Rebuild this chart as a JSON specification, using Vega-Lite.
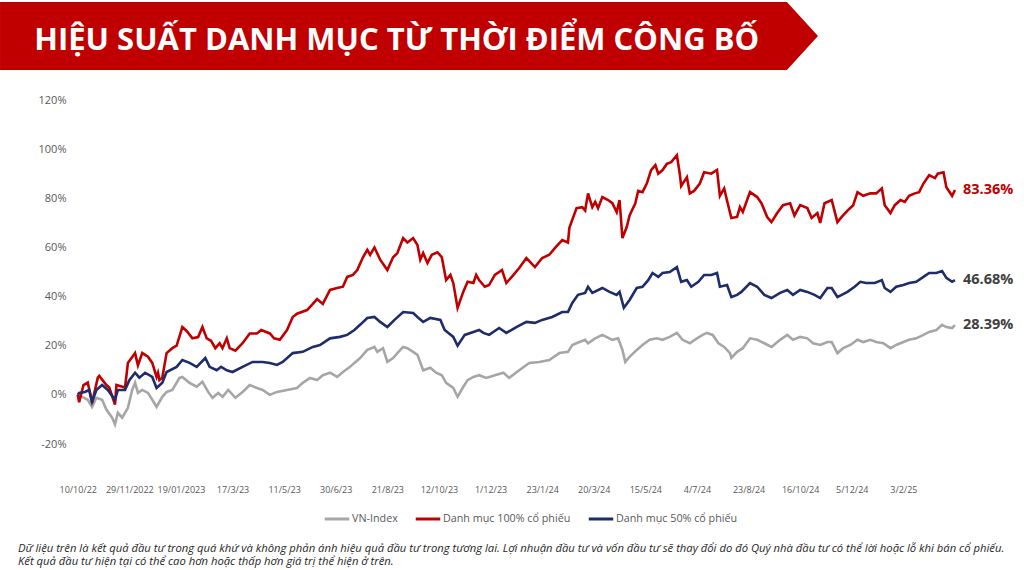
{
  "$schema": "https://vega.github.io/schema/vega-lite/v6.json",
  "background": "white",
  "padding": {"left": 0, "top": 2, "right": 0, "bottom": 0},
  "config": {
    "view": {"stroke": null},
    "font": "Open Sans"
  },
  "datasets": {
    "banner": [
      {"bx": 0, "top": 0, "bot": 1},
      {"bx": 0.962, "top": 0, "bot": 1},
      {"bx": 1, "top": 0.5, "bot": 0.5}
    ],
    "ends": [
      {"series": "Danh mục 100% cổ phiếu", "day": 612, "ret": 83.36, "label": "83.36%"},
      {"series": "Danh mục 50% cổ phiếu", "day": 612, "ret": 46.68, "label": "46.68%"},
      {"series": "VN-Index", "day": 612, "ret": 28.39, "label": "28.39%"}
    ],
    "perf": [
      {"series": "VN-Index", "day": 0, "ret": 0},
      {"series": "VN-Index", "day": 3, "ret": -0.8},
      {"series": "VN-Index", "day": 7, "ret": -2},
      {"series": "VN-Index", "day": 10, "ret": -4.9},
      {"series": "VN-Index", "day": 13, "ret": -1.2},
      {"series": "VN-Index", "day": 17, "ret": -2},
      {"series": "VN-Index", "day": 20, "ret": -6},
      {"series": "VN-Index", "day": 24, "ret": -9.3},
      {"series": "VN-Index", "day": 26, "ret": -12},
      {"series": "VN-Index", "day": 28, "ret": -7.3},
      {"series": "VN-Index", "day": 31, "ret": -9.3},
      {"series": "VN-Index", "day": 35, "ret": -5.3},
      {"series": "VN-Index", "day": 38, "ret": 2},
      {"series": "VN-Index", "day": 40, "ret": 4.9},
      {"series": "VN-Index", "day": 42, "ret": 0.8},
      {"series": "VN-Index", "day": 45, "ret": 2},
      {"series": "VN-Index", "day": 49, "ret": 0.8},
      {"series": "VN-Index", "day": 52, "ret": -2},
      {"series": "VN-Index", "day": 55, "ret": -4.9},
      {"series": "VN-Index", "day": 59, "ret": -0.8},
      {"series": "VN-Index", "day": 62, "ret": 1.2},
      {"series": "VN-Index", "day": 66, "ret": 2},
      {"series": "VN-Index", "day": 71, "ret": 6.9},
      {"series": "VN-Index", "day": 73, "ret": 7.3},
      {"series": "VN-Index", "day": 78, "ret": 4.9},
      {"series": "VN-Index", "day": 83, "ret": 3.3},
      {"series": "VN-Index", "day": 87, "ret": 5.3},
      {"series": "VN-Index", "day": 91, "ret": 1.2},
      {"series": "VN-Index", "day": 94, "ret": -1.2},
      {"series": "VN-Index", "day": 98, "ret": 0.8},
      {"series": "VN-Index", "day": 101, "ret": -0.8},
      {"series": "VN-Index", "day": 105, "ret": 2},
      {"series": "VN-Index", "day": 110, "ret": -1.2},
      {"series": "VN-Index", "day": 115, "ret": 1.2},
      {"series": "VN-Index", "day": 120, "ret": 4},
      {"series": "VN-Index", "day": 125, "ret": 2.8},
      {"series": "VN-Index", "day": 129, "ret": 2},
      {"series": "VN-Index", "day": 134, "ret": 0},
      {"series": "VN-Index", "day": 139, "ret": 1.2},
      {"series": "VN-Index", "day": 146, "ret": 2},
      {"series": "VN-Index", "day": 153, "ret": 2.8},
      {"series": "VN-Index", "day": 157, "ret": 4.9},
      {"series": "VN-Index", "day": 162, "ret": 6.9},
      {"series": "VN-Index", "day": 167, "ret": 6},
      {"series": "VN-Index", "day": 171, "ret": 8},
      {"series": "VN-Index", "day": 176, "ret": 9},
      {"series": "VN-Index", "day": 181, "ret": 7.3},
      {"series": "VN-Index", "day": 185, "ret": 9.3},
      {"series": "VN-Index", "day": 190, "ret": 11.4},
      {"series": "VN-Index", "day": 193, "ret": 13},
      {"series": "VN-Index", "day": 197, "ret": 15},
      {"series": "VN-Index", "day": 202, "ret": 18.3},
      {"series": "VN-Index", "day": 207, "ret": 19.5},
      {"series": "VN-Index", "day": 209, "ret": 17.5},
      {"series": "VN-Index", "day": 213, "ret": 19},
      {"series": "VN-Index", "day": 216, "ret": 13.4},
      {"series": "VN-Index", "day": 220, "ret": 15},
      {"series": "VN-Index", "day": 223, "ret": 17},
      {"series": "VN-Index", "day": 227, "ret": 19.5},
      {"series": "VN-Index", "day": 230, "ret": 19},
      {"series": "VN-Index", "day": 234, "ret": 17.5},
      {"series": "VN-Index", "day": 237, "ret": 16.3},
      {"series": "VN-Index", "day": 241, "ret": 10},
      {"series": "VN-Index", "day": 246, "ret": 11},
      {"series": "VN-Index", "day": 250, "ret": 9},
      {"series": "VN-Index", "day": 254, "ret": 8},
      {"series": "VN-Index", "day": 257, "ret": 4.9},
      {"series": "VN-Index", "day": 262, "ret": 2.8},
      {"series": "VN-Index", "day": 265, "ret": -0.8},
      {"series": "VN-Index", "day": 269, "ret": 3.3},
      {"series": "VN-Index", "day": 272, "ret": 6},
      {"series": "VN-Index", "day": 276, "ret": 7.3},
      {"series": "VN-Index", "day": 280, "ret": 8},
      {"series": "VN-Index", "day": 285, "ret": 6.9},
      {"series": "VN-Index", "day": 291, "ret": 8},
      {"series": "VN-Index", "day": 297, "ret": 9},
      {"series": "VN-Index", "day": 301, "ret": 6.9},
      {"series": "VN-Index", "day": 308, "ret": 10},
      {"series": "VN-Index", "day": 315, "ret": 13},
      {"series": "VN-Index", "day": 322, "ret": 13.4},
      {"series": "VN-Index", "day": 329, "ret": 14.2},
      {"series": "VN-Index", "day": 336, "ret": 17},
      {"series": "VN-Index", "day": 342, "ret": 17.5},
      {"series": "VN-Index", "day": 345, "ret": 20.3},
      {"series": "VN-Index", "day": 350, "ret": 21.5},
      {"series": "VN-Index", "day": 354, "ret": 22.4},
      {"series": "VN-Index", "day": 356, "ret": 21},
      {"series": "VN-Index", "day": 361, "ret": 23},
      {"series": "VN-Index", "day": 366, "ret": 24.4},
      {"series": "VN-Index", "day": 373, "ret": 22.4},
      {"series": "VN-Index", "day": 377, "ret": 23},
      {"series": "VN-Index", "day": 380, "ret": 18.3},
      {"series": "VN-Index", "day": 382, "ret": 13.4},
      {"series": "VN-Index", "day": 385, "ret": 15.5},
      {"series": "VN-Index", "day": 390, "ret": 18.3},
      {"series": "VN-Index", "day": 394, "ret": 20.3},
      {"series": "VN-Index", "day": 399, "ret": 22.4},
      {"series": "VN-Index", "day": 404, "ret": 23},
      {"series": "VN-Index", "day": 408, "ret": 22.4},
      {"series": "VN-Index", "day": 413, "ret": 23.6},
      {"series": "VN-Index", "day": 418, "ret": 25.2},
      {"series": "VN-Index", "day": 422, "ret": 22.4},
      {"series": "VN-Index", "day": 427, "ret": 21},
      {"series": "VN-Index", "day": 432, "ret": 23},
      {"series": "VN-Index", "day": 436, "ret": 24.4},
      {"series": "VN-Index", "day": 439, "ret": 25.2},
      {"series": "VN-Index", "day": 443, "ret": 24.4},
      {"series": "VN-Index", "day": 447, "ret": 21},
      {"series": "VN-Index", "day": 451, "ret": 19.5},
      {"series": "VN-Index", "day": 455, "ret": 17},
      {"series": "VN-Index", "day": 456, "ret": 15},
      {"series": "VN-Index", "day": 460, "ret": 17.5},
      {"series": "VN-Index", "day": 464, "ret": 19},
      {"series": "VN-Index", "day": 469, "ret": 23},
      {"series": "VN-Index", "day": 474, "ret": 22.4},
      {"series": "VN-Index", "day": 479, "ret": 21},
      {"series": "VN-Index", "day": 484, "ret": 19.5},
      {"series": "VN-Index", "day": 490, "ret": 22.4},
      {"series": "VN-Index", "day": 495, "ret": 24.4},
      {"series": "VN-Index", "day": 499, "ret": 22.4},
      {"series": "VN-Index", "day": 504, "ret": 23.6},
      {"series": "VN-Index", "day": 509, "ret": 23},
      {"series": "VN-Index", "day": 513, "ret": 21},
      {"series": "VN-Index", "day": 518, "ret": 20.3},
      {"series": "VN-Index", "day": 523, "ret": 21.5},
      {"series": "VN-Index", "day": 526, "ret": 21.5},
      {"series": "VN-Index", "day": 530, "ret": 17},
      {"series": "VN-Index", "day": 534, "ret": 19},
      {"series": "VN-Index", "day": 539, "ret": 20.3},
      {"series": "VN-Index", "day": 544, "ret": 22.4},
      {"series": "VN-Index", "day": 548, "ret": 21.5},
      {"series": "VN-Index", "day": 553, "ret": 22.4},
      {"series": "VN-Index", "day": 557, "ret": 21.5},
      {"series": "VN-Index", "day": 562, "ret": 21},
      {"series": "VN-Index", "day": 567, "ret": 19},
      {"series": "VN-Index", "day": 571, "ret": 20.3},
      {"series": "VN-Index", "day": 576, "ret": 21.5},
      {"series": "VN-Index", "day": 580, "ret": 22.4},
      {"series": "VN-Index", "day": 585, "ret": 23},
      {"series": "VN-Index", "day": 590, "ret": 24.4},
      {"series": "VN-Index", "day": 594, "ret": 25.6},
      {"series": "VN-Index", "day": 599, "ret": 26.4},
      {"series": "VN-Index", "day": 603, "ret": 28.5},
      {"series": "VN-Index", "day": 606, "ret": 27.6},
      {"series": "VN-Index", "day": 610, "ret": 27.2},
      {"series": "VN-Index", "day": 612, "ret": 28.39},

      {"series": "Danh mục 100% cổ phiếu", "day": 0, "ret": 0},
      {"series": "Danh mục 100% cổ phiếu", "day": 1, "ret": -3},
      {"series": "Danh mục 100% cổ phiếu", "day": 4, "ret": 4},
      {"series": "Danh mục 100% cổ phiếu", "day": 7, "ret": 5},
      {"series": "Danh mục 100% cổ phiếu", "day": 10, "ret": -3.3},
      {"series": "Danh mục 100% cổ phiếu", "day": 14, "ret": 7},
      {"series": "Danh mục 100% cổ phiếu", "day": 15, "ret": 7.7},
      {"series": "Danh mục 100% cổ phiếu", "day": 20, "ret": 4},
      {"series": "Danh mục 100% cổ phiếu", "day": 22, "ret": 3},
      {"series": "Danh mục 100% cổ phiếu", "day": 26, "ret": -4},
      {"series": "Danh mục 100% cổ phiếu", "day": 27, "ret": 4},
      {"series": "Danh mục 100% cổ phiếu", "day": 33, "ret": 3},
      {"series": "Danh mục 100% cổ phiếu", "day": 35, "ret": 13},
      {"series": "Danh mục 100% cổ phiếu", "day": 40, "ret": 17},
      {"series": "Danh mục 100% cổ phiếu", "day": 42, "ret": 12},
      {"series": "Danh mục 100% cổ phiếu", "day": 45, "ret": 17},
      {"series": "Danh mục 100% cổ phiếu", "day": 49, "ret": 15.5},
      {"series": "Danh mục 100% cổ phiếu", "day": 52, "ret": 13},
      {"series": "Danh mục 100% cổ phiếu", "day": 55, "ret": 7.3},
      {"series": "Danh mục 100% cổ phiếu", "day": 56, "ret": 9},
      {"series": "Danh mục 100% cổ phiếu", "day": 57, "ret": 6},
      {"series": "Danh mục 100% cổ phiếu", "day": 59, "ret": 7},
      {"series": "Danh mục 100% cổ phiếu", "day": 62, "ret": 17},
      {"series": "Danh mục 100% cổ phiếu", "day": 66, "ret": 19},
      {"series": "Danh mục 100% cổ phiếu", "day": 69, "ret": 20},
      {"series": "Danh mục 100% cổ phiếu", "day": 73, "ret": 27.6},
      {"series": "Danh mục 100% cổ phiếu", "day": 76, "ret": 26},
      {"series": "Danh mục 100% cổ phiếu", "day": 80, "ret": 23},
      {"series": "Danh mục 100% cổ phiếu", "day": 84, "ret": 23.5},
      {"series": "Danh mục 100% cổ phiếu", "day": 87, "ret": 27.6},
      {"series": "Danh mục 100% cổ phiếu", "day": 90, "ret": 23},
      {"series": "Danh mục 100% cổ phiếu", "day": 93, "ret": 22},
      {"series": "Danh mục 100% cổ phiếu", "day": 96, "ret": 19},
      {"series": "Danh mục 100% cổ phiếu", "day": 99, "ret": 21},
      {"series": "Danh mục 100% cổ phiếu", "day": 101, "ret": 19},
      {"series": "Danh mục 100% cổ phiếu", "day": 104, "ret": 23},
      {"series": "Danh mục 100% cổ phiếu", "day": 106, "ret": 19},
      {"series": "Danh mục 100% cổ phiếu", "day": 110, "ret": 18},
      {"series": "Danh mục 100% cổ phiếu", "day": 115, "ret": 21},
      {"series": "Danh mục 100% cổ phiếu", "day": 120, "ret": 25},
      {"series": "Danh mục 100% cổ phiếu", "day": 125, "ret": 25},
      {"series": "Danh mục 100% cổ phiếu", "day": 128, "ret": 26.4},
      {"series": "Danh mục 100% cổ phiếu", "day": 134, "ret": 25},
      {"series": "Danh mục 100% cổ phiếu", "day": 137, "ret": 23},
      {"series": "Danh mục 100% cổ phiếu", "day": 141, "ret": 22.4},
      {"series": "Danh mục 100% cổ phiếu", "day": 146, "ret": 26.4},
      {"series": "Danh mục 100% cổ phiếu", "day": 150, "ret": 31.7},
      {"series": "Danh mục 100% cổ phiếu", "day": 153, "ret": 33},
      {"series": "Danh mục 100% cổ phiếu", "day": 160, "ret": 34.5},
      {"series": "Danh mục 100% cổ phiếu", "day": 164, "ret": 37},
      {"series": "Danh mục 100% cổ phiếu", "day": 167, "ret": 39},
      {"series": "Danh mục 100% cổ phiếu", "day": 171, "ret": 37},
      {"series": "Danh mục 100% cổ phiếu", "day": 176, "ret": 42.7},
      {"series": "Danh mục 100% cổ phiếu", "day": 181, "ret": 43.5},
      {"series": "Danh mục 100% cổ phiếu", "day": 185, "ret": 44},
      {"series": "Danh mục 100% cổ phiếu", "day": 188, "ret": 48},
      {"series": "Danh mục 100% cổ phiếu", "day": 192, "ret": 48.8},
      {"series": "Danh mục 100% cổ phiếu", "day": 195, "ret": 50.8},
      {"series": "Danh mục 100% cổ phiếu", "day": 199, "ret": 56},
      {"series": "Danh mục 100% cổ phiếu", "day": 202, "ret": 59},
      {"series": "Danh mục 100% cổ phiếu", "day": 204, "ret": 57},
      {"series": "Danh mục 100% cổ phiếu", "day": 207, "ret": 60},
      {"series": "Danh mục 100% cổ phiếu", "day": 211, "ret": 55},
      {"series": "Danh mục 100% cổ phiếu", "day": 216, "ret": 50.8},
      {"series": "Danh mục 100% cổ phiếu", "day": 220, "ret": 56},
      {"series": "Danh mục 100% cổ phiếu", "day": 223, "ret": 57.7},
      {"series": "Danh mục 100% cổ phiếu", "day": 227, "ret": 63.8},
      {"series": "Danh mục 100% cổ phiếu", "day": 230, "ret": 62},
      {"series": "Danh mục 100% cổ phiếu", "day": 234, "ret": 63.8},
      {"series": "Danh mục 100% cổ phiếu", "day": 237, "ret": 61},
      {"series": "Danh mục 100% cổ phiếu", "day": 239, "ret": 55},
      {"series": "Danh mục 100% cổ phiếu", "day": 241, "ret": 57.7},
      {"series": "Danh mục 100% cổ phiếu", "day": 244, "ret": 53.7},
      {"series": "Danh mục 100% cổ phiếu", "day": 247, "ret": 57},
      {"series": "Danh mục 100% cổ phiếu", "day": 251, "ret": 58},
      {"series": "Danh mục 100% cổ phiếu", "day": 254, "ret": 56},
      {"series": "Danh mục 100% cổ phiếu", "day": 257, "ret": 46.7},
      {"series": "Danh mục 100% cổ phiếu", "day": 260, "ret": 48.8},
      {"series": "Danh mục 100% cổ phiếu", "day": 262, "ret": 45.5},
      {"series": "Danh mục 100% cổ phiếu", "day": 265, "ret": 35.4},
      {"series": "Danh mục 100% cổ phiếu", "day": 269, "ret": 42},
      {"series": "Danh mục 100% cổ phiếu", "day": 272, "ret": 46},
      {"series": "Danh mục 100% cổ phiếu", "day": 276, "ret": 45.5},
      {"series": "Danh mục 100% cổ phiếu", "day": 278, "ret": 48.8},
      {"series": "Danh mục 100% cổ phiếu", "day": 280, "ret": 46.7},
      {"series": "Danh mục 100% cổ phiếu", "day": 284, "ret": 44},
      {"series": "Danh mục 100% cổ phiếu", "day": 287, "ret": 44.7},
      {"series": "Danh mục 100% cổ phiếu", "day": 291, "ret": 48.8},
      {"series": "Danh mục 100% cổ phiếu", "day": 296, "ret": 50.8},
      {"series": "Danh mục 100% cổ phiếu", "day": 299, "ret": 45.5},
      {"series": "Danh mục 100% cổ phiếu", "day": 304, "ret": 48.8},
      {"series": "Danh mục 100% cổ phiếu", "day": 308, "ret": 51.6},
      {"series": "Danh mục 100% cổ phiếu", "day": 313, "ret": 55.7},
      {"series": "Danh mục 100% cổ phiếu", "day": 319, "ret": 52},
      {"series": "Danh mục 100% cổ phiếu", "day": 324, "ret": 55.7},
      {"series": "Danh mục 100% cổ phiếu", "day": 329, "ret": 57},
      {"series": "Danh mục 100% cổ phiếu", "day": 333, "ret": 59.8},
      {"series": "Danh mục 100% cổ phiếu", "day": 338, "ret": 63},
      {"series": "Danh mục 100% cổ phiếu", "day": 342, "ret": 62},
      {"series": "Danh mục 100% cổ phiếu", "day": 343, "ret": 68},
      {"series": "Danh mục 100% cổ phiếu", "day": 348, "ret": 76},
      {"series": "Danh mục 100% cổ phiếu", "day": 352, "ret": 76.4},
      {"series": "Danh mục 100% cổ phiếu", "day": 354, "ret": 75},
      {"series": "Danh mục 100% cổ phiếu", "day": 356, "ret": 82},
      {"series": "Danh mục 100% cổ phiếu", "day": 359, "ret": 76.4},
      {"series": "Danh mục 100% cổ phiếu", "day": 361, "ret": 78.5},
      {"series": "Danh mục 100% cổ phiếu", "day": 363, "ret": 76},
      {"series": "Danh mục 100% cổ phiếu", "day": 366, "ret": 80.5},
      {"series": "Danh mục 100% cổ phiếu", "day": 370, "ret": 79.3},
      {"series": "Danh mục 100% cổ phiếu", "day": 373, "ret": 78},
      {"series": "Danh mục 100% cổ phiếu", "day": 376, "ret": 74.4},
      {"series": "Danh mục 100% cổ phiếu", "day": 378, "ret": 79.3},
      {"series": "Danh mục 100% cổ phiếu", "day": 380, "ret": 63.8},
      {"series": "Danh mục 100% cổ phiếu", "day": 383, "ret": 68.3},
      {"series": "Danh mục 100% cổ phiếu", "day": 385, "ret": 73},
      {"series": "Danh mục 100% cổ phiếu", "day": 389, "ret": 78},
      {"series": "Danh mục 100% cổ phiếu", "day": 391, "ret": 83},
      {"series": "Danh mục 100% cổ phiếu", "day": 394, "ret": 82.5},
      {"series": "Danh mục 100% cổ phiếu", "day": 397, "ret": 86},
      {"series": "Danh mục 100% cổ phiếu", "day": 400, "ret": 91.5},
      {"series": "Danh mục 100% cổ phiếu", "day": 403, "ret": 93.5},
      {"series": "Danh mục 100% cổ phiếu", "day": 405, "ret": 90},
      {"series": "Danh mục 100% cổ phiếu", "day": 408, "ret": 91.5},
      {"series": "Danh mục 100% cổ phiếu", "day": 411, "ret": 94},
      {"series": "Danh mục 100% cổ phiếu", "day": 414, "ret": 94.7},
      {"series": "Danh mục 100% cổ phiếu", "day": 418, "ret": 97.5},
      {"series": "Danh mục 100% cổ phiếu", "day": 420, "ret": 90},
      {"series": "Danh mục 100% cổ phiếu", "day": 421, "ret": 85},
      {"series": "Danh mục 100% cổ phiếu", "day": 425, "ret": 88.6},
      {"series": "Danh mục 100% cổ phiếu", "day": 427, "ret": 82},
      {"series": "Danh mục 100% cổ phiếu", "day": 430, "ret": 83},
      {"series": "Danh mục 100% cổ phiếu", "day": 434, "ret": 86},
      {"series": "Danh mục 100% cổ phiếu", "day": 437, "ret": 90.6},
      {"series": "Danh mục 100% cổ phiếu", "day": 442, "ret": 90},
      {"series": "Danh mục 100% cổ phiếu", "day": 446, "ret": 91.5},
      {"series": "Danh mục 100% cổ phiếu", "day": 448, "ret": 81},
      {"series": "Danh mục 100% cổ phiếu", "day": 451, "ret": 84},
      {"series": "Danh mục 100% cổ phiếu", "day": 453, "ret": 79},
      {"series": "Danh mục 100% cổ phiếu", "day": 456, "ret": 72},
      {"series": "Danh mục 100% cổ phiếu", "day": 460, "ret": 72.4},
      {"series": "Danh mục 100% cổ phiếu", "day": 462, "ret": 76.4},
      {"series": "Danh mục 100% cổ phiếu", "day": 464, "ret": 74.4},
      {"series": "Danh mục 100% cổ phiếu", "day": 469, "ret": 82.5},
      {"series": "Danh mục 100% cổ phiếu", "day": 474, "ret": 80.5},
      {"series": "Danh mục 100% cổ phiếu", "day": 477, "ret": 78},
      {"series": "Danh mục 100% cổ phiếu", "day": 481, "ret": 72.4},
      {"series": "Danh mục 100% cổ phiếu", "day": 484, "ret": 70.3},
      {"series": "Danh mục 100% cổ phiếu", "day": 488, "ret": 74},
      {"series": "Danh mục 100% cổ phiếu", "day": 492, "ret": 77.2},
      {"series": "Danh mục 100% cổ phiếu", "day": 497, "ret": 78},
      {"series": "Danh mục 100% cổ phiếu", "day": 500, "ret": 73},
      {"series": "Danh mục 100% cổ phiếu", "day": 504, "ret": 77.2},
      {"series": "Danh mục 100% cổ phiếu", "day": 509, "ret": 76},
      {"series": "Danh mục 100% cổ phiếu", "day": 512, "ret": 72},
      {"series": "Danh mục 100% cổ phiếu", "day": 516, "ret": 74},
      {"series": "Danh mục 100% cổ phiếu", "day": 518, "ret": 70},
      {"series": "Danh mục 100% cổ phiếu", "day": 521, "ret": 78},
      {"series": "Danh mục 100% cổ phiếu", "day": 526, "ret": 79.3},
      {"series": "Danh mục 100% cổ phiếu", "day": 530, "ret": 70.3},
      {"series": "Danh mục 100% cổ phiếu", "day": 533, "ret": 72.4},
      {"series": "Danh mục 100% cổ phiếu", "day": 537, "ret": 75},
      {"series": "Danh mục 100% cổ phiếu", "day": 541, "ret": 77.2},
      {"series": "Danh mục 100% cổ phiếu", "day": 544, "ret": 82.5},
      {"series": "Danh mục 100% cổ phiếu", "day": 548, "ret": 81},
      {"series": "Danh mục 100% cổ phiếu", "day": 553, "ret": 82},
      {"series": "Danh mục 100% cổ phiếu", "day": 557, "ret": 82},
      {"series": "Danh mục 100% cổ phiếu", "day": 561, "ret": 84},
      {"series": "Danh mục 100% cổ phiếu", "day": 563, "ret": 77.2},
      {"series": "Danh mục 100% cổ phiếu", "day": 567, "ret": 74},
      {"series": "Danh mục 100% cổ phiếu", "day": 570, "ret": 77.2},
      {"series": "Danh mục 100% cổ phiếu", "day": 574, "ret": 79.3},
      {"series": "Danh mục 100% cổ phiếu", "day": 577, "ret": 78.5},
      {"series": "Danh mục 100% cổ phiếu", "day": 580, "ret": 81},
      {"series": "Danh mục 100% cổ phiếu", "day": 584, "ret": 82},
      {"series": "Danh mục 100% cổ phiếu", "day": 587, "ret": 82.5},
      {"series": "Danh mục 100% cổ phiếu", "day": 590, "ret": 86},
      {"series": "Danh mục 100% cổ phiếu", "day": 594, "ret": 89.4},
      {"series": "Danh mục 100% cổ phiếu", "day": 598, "ret": 88.2},
      {"series": "Danh mục 100% cổ phiếu", "day": 600, "ret": 90},
      {"series": "Danh mục 100% cổ phiếu", "day": 604, "ret": 90.6},
      {"series": "Danh mục 100% cổ phiếu", "day": 606, "ret": 84.5},
      {"series": "Danh mục 100% cổ phiếu", "day": 610, "ret": 81},
      {"series": "Danh mục 100% cổ phiếu", "day": 612, "ret": 83.36},

      {"series": "Danh mục 50% cổ phiếu", "day": 0, "ret": 0},
      {"series": "Danh mục 50% cổ phiếu", "day": 1, "ret": 0.8},
      {"series": "Danh mục 50% cổ phiếu", "day": 5, "ret": 1.2},
      {"series": "Danh mục 50% cổ phiếu", "day": 8, "ret": 2},
      {"series": "Danh mục 50% cổ phiếu", "day": 10, "ret": -2.8},
      {"series": "Danh mục 50% cổ phiếu", "day": 13, "ret": 2},
      {"series": "Danh mục 50% cổ phiếu", "day": 17, "ret": 4},
      {"series": "Danh mục 50% cổ phiếu", "day": 21, "ret": 2},
      {"series": "Danh mục 50% cổ phiếu", "day": 26, "ret": -2},
      {"series": "Danh mục 50% cổ phiếu", "day": 28, "ret": 2},
      {"series": "Danh mục 50% cổ phiếu", "day": 33, "ret": 2},
      {"series": "Danh mục 50% cổ phiếu", "day": 36, "ret": 6},
      {"series": "Danh mục 50% cổ phiếu", "day": 40, "ret": 9},
      {"series": "Danh mục 50% cổ phiếu", "day": 43, "ret": 7},
      {"series": "Danh mục 50% cổ phiếu", "day": 47, "ret": 9},
      {"series": "Danh mục 50% cổ phiếu", "day": 52, "ret": 7.3},
      {"series": "Danh mục 50% cổ phiếu", "day": 55, "ret": 2.8},
      {"series": "Danh mục 50% cổ phiếu", "day": 59, "ret": 4.9},
      {"series": "Danh mục 50% cổ phiếu", "day": 62, "ret": 9.3},
      {"series": "Danh mục 50% cổ phiếu", "day": 69, "ret": 11.4},
      {"series": "Danh mục 50% cổ phiếu", "day": 73, "ret": 14.2},
      {"series": "Danh mục 50% cổ phiếu", "day": 78, "ret": 13},
      {"series": "Danh mục 50% cổ phiếu", "day": 83, "ret": 11.4},
      {"series": "Danh mục 50% cổ phiếu", "day": 89, "ret": 15},
      {"series": "Danh mục 50% cổ phiếu", "day": 92, "ret": 11.4},
      {"series": "Danh mục 50% cổ phiếu", "day": 97, "ret": 10},
      {"series": "Danh mục 50% cổ phiếu", "day": 100, "ret": 11.4},
      {"series": "Danh mục 50% cổ phiếu", "day": 104, "ret": 10},
      {"series": "Danh mục 50% cổ phiếu", "day": 108, "ret": 9.3},
      {"series": "Danh mục 50% cổ phiếu", "day": 115, "ret": 11.4},
      {"series": "Danh mục 50% cổ phiếu", "day": 122, "ret": 13.4},
      {"series": "Danh mục 50% cổ phiếu", "day": 129, "ret": 13.4},
      {"series": "Danh mục 50% cổ phiếu", "day": 134, "ret": 13},
      {"series": "Danh mục 50% cổ phiếu", "day": 139, "ret": 12.2},
      {"series": "Danh mục 50% cổ phiếu", "day": 143, "ret": 13.4},
      {"series": "Danh mục 50% cổ phiếu", "day": 150, "ret": 17},
      {"series": "Danh mục 50% cổ phiếu", "day": 157, "ret": 17.5},
      {"series": "Danh mục 50% cổ phiếu", "day": 164, "ret": 19.5},
      {"series": "Danh mục 50% cổ phiếu", "day": 169, "ret": 20.3},
      {"series": "Danh mục 50% cổ phiếu", "day": 176, "ret": 23},
      {"series": "Danh mục 50% cổ phiếu", "day": 183, "ret": 23.6},
      {"series": "Danh mục 50% cổ phiếu", "day": 188, "ret": 24.4},
      {"series": "Danh mục 50% cổ phiếu", "day": 193, "ret": 26.4},
      {"series": "Danh mục 50% cổ phiếu", "day": 197, "ret": 28.5},
      {"series": "Danh mục 50% cổ phiếu", "day": 202, "ret": 31.3},
      {"series": "Danh mục 50% cổ phiếu", "day": 207, "ret": 31.7},
      {"series": "Danh mục 50% cổ phiếu", "day": 211, "ret": 29.7},
      {"series": "Danh mục 50% cổ phiếu", "day": 216, "ret": 27.6},
      {"series": "Danh mục 50% cổ phiếu", "day": 221, "ret": 30.5},
      {"series": "Danh mục 50% cổ phiếu", "day": 227, "ret": 33.7},
      {"series": "Danh mục 50% cổ phiếu", "day": 234, "ret": 33.3},
      {"series": "Danh mục 50% cổ phiếu", "day": 237, "ret": 31.7},
      {"series": "Danh mục 50% cổ phiếu", "day": 241, "ret": 29.7},
      {"series": "Danh mục 50% cổ phiếu", "day": 246, "ret": 31.3},
      {"series": "Danh mục 50% cổ phiếu", "day": 253, "ret": 30.5},
      {"series": "Danh mục 50% cổ phiếu", "day": 256, "ret": 26.4},
      {"series": "Danh mục 50% cổ phiếu", "day": 262, "ret": 23.6},
      {"series": "Danh mục 50% cổ phiếu", "day": 265, "ret": 20},
      {"series": "Danh mục 50% cổ phiếu", "day": 270, "ret": 24.4},
      {"series": "Danh mục 50% cổ phiếu", "day": 276, "ret": 25.6},
      {"series": "Danh mục 50% cổ phiếu", "day": 280, "ret": 26.4},
      {"series": "Danh mục 50% cổ phiếu", "day": 283, "ret": 25.2},
      {"series": "Danh mục 50% cổ phiếu", "day": 287, "ret": 24.4},
      {"series": "Danh mục 50% cổ phiếu", "day": 294, "ret": 27.2},
      {"series": "Danh mục 50% cổ phiếu", "day": 299, "ret": 25.2},
      {"series": "Danh mục 50% cổ phiếu", "day": 306, "ret": 27.6},
      {"series": "Danh mục 50% cổ phiếu", "day": 313, "ret": 29.7},
      {"series": "Danh mục 50% cổ phiếu", "day": 319, "ret": 29.3},
      {"series": "Danh mục 50% cổ phiếu", "day": 324, "ret": 30.5},
      {"series": "Danh mục 50% cổ phiếu", "day": 331, "ret": 31.7},
      {"series": "Danh mục 50% cổ phiếu", "day": 338, "ret": 33.7},
      {"series": "Danh mục 50% cổ phiếu", "day": 342, "ret": 33.7},
      {"series": "Danh mục 50% cổ phiếu", "day": 345, "ret": 37.4},
      {"series": "Danh mục 50% cổ phiếu", "day": 349, "ret": 40.7},
      {"series": "Danh mục 50% cổ phiếu", "day": 354, "ret": 41.5},
      {"series": "Danh mục 50% cổ phiếu", "day": 356, "ret": 44},
      {"series": "Danh mục 50% cổ phiếu", "day": 359, "ret": 41.5},
      {"series": "Danh mục 50% cổ phiếu", "day": 366, "ret": 43.5},
      {"series": "Danh mục 50% cổ phiếu", "day": 371, "ret": 41.9},
      {"series": "Danh mục 50% cổ phiếu", "day": 376, "ret": 40.7},
      {"series": "Danh mục 50% cổ phiếu", "day": 378, "ret": 41.9},
      {"series": "Danh mục 50% cổ phiếu", "day": 381, "ret": 35.4},
      {"series": "Danh mục 50% cổ phiếu", "day": 385, "ret": 38.6},
      {"series": "Danh mục 50% cổ phiếu", "day": 390, "ret": 43.5},
      {"series": "Danh mục 50% cổ phiếu", "day": 394, "ret": 44},
      {"series": "Danh mục 50% cổ phiếu", "day": 398, "ret": 46.7},
      {"series": "Danh mục 50% cổ phiếu", "day": 401, "ret": 49.6},
      {"series": "Danh mục 50% cổ phiếu", "day": 405, "ret": 48},
      {"series": "Danh mục 50% cổ phiếu", "day": 408, "ret": 49.6},
      {"series": "Danh mục 50% cổ phiếu", "day": 413, "ret": 50},
      {"series": "Danh mục 50% cổ phiếu", "day": 418, "ret": 52},
      {"series": "Danh mục 50% cổ phiếu", "day": 421, "ret": 46},
      {"series": "Danh mục 50% cổ phiếu", "day": 425, "ret": 46.7},
      {"series": "Danh mục 50% cổ phiếu", "day": 428, "ret": 44},
      {"series": "Danh mục 50% cổ phiếu", "day": 433, "ret": 46},
      {"series": "Danh mục 50% cổ phiếu", "day": 437, "ret": 48.8},
      {"series": "Danh mục 50% cổ phiếu", "day": 442, "ret": 48.8},
      {"series": "Danh mục 50% cổ phiếu", "day": 446, "ret": 49.6},
      {"series": "Danh mục 50% cổ phiếu", "day": 448, "ret": 44},
      {"series": "Danh mục 50% cổ phiếu", "day": 453, "ret": 44.7},
      {"series": "Danh mục 50% cổ phiếu", "day": 456, "ret": 39.8},
      {"series": "Danh mục 50% cổ phiếu", "day": 460, "ret": 40.7},
      {"series": "Danh mục 50% cổ phiếu", "day": 463, "ret": 41.9},
      {"series": "Danh mục 50% cổ phiếu", "day": 469, "ret": 45.5},
      {"series": "Danh mục 50% cổ phiếu", "day": 474, "ret": 44},
      {"series": "Danh mục 50% cổ phiếu", "day": 479, "ret": 40.7},
      {"series": "Danh mục 50% cổ phiếu", "day": 484, "ret": 39.4},
      {"series": "Danh mục 50% cổ phiếu", "day": 490, "ret": 41.5},
      {"series": "Danh mục 50% cổ phiếu", "day": 495, "ret": 42.7},
      {"series": "Danh mục 50% cổ phiếu", "day": 499, "ret": 40.7},
      {"series": "Danh mục 50% cổ phiếu", "day": 504, "ret": 42.7},
      {"series": "Danh mục 50% cổ phiếu", "day": 509, "ret": 41.9},
      {"series": "Danh mục 50% cổ phiếu", "day": 514, "ret": 40.7},
      {"series": "Danh mục 50% cổ phiếu", "day": 518, "ret": 39.4},
      {"series": "Danh mục 50% cổ phiếu", "day": 523, "ret": 43.5},
      {"series": "Danh mục 50% cổ phiếu", "day": 526, "ret": 43.5},
      {"series": "Danh mục 50% cổ phiếu", "day": 530, "ret": 39.8},
      {"series": "Danh mục 50% cổ phiếu", "day": 537, "ret": 41.9},
      {"series": "Danh mục 50% cổ phiếu", "day": 542, "ret": 44},
      {"series": "Danh mục 50% cổ phiếu", "day": 546, "ret": 46},
      {"series": "Danh mục 50% cổ phiếu", "day": 550, "ret": 45.5},
      {"series": "Danh mục 50% cổ phiếu", "day": 556, "ret": 45.5},
      {"series": "Danh mục 50% cổ phiếu", "day": 561, "ret": 46.7},
      {"series": "Danh mục 50% cổ phiếu", "day": 563, "ret": 43.5},
      {"series": "Danh mục 50% cổ phiếu", "day": 567, "ret": 41.9},
      {"series": "Danh mục 50% cổ phiếu", "day": 571, "ret": 44},
      {"series": "Danh mục 50% cổ phiếu", "day": 576, "ret": 44.7},
      {"series": "Danh mục 50% cổ phiếu", "day": 580, "ret": 45.5},
      {"series": "Danh mục 50% cổ phiếu", "day": 585, "ret": 46},
      {"series": "Danh mục 50% cổ phiếu", "day": 590, "ret": 48},
      {"series": "Danh mục 50% cổ phiếu", "day": 594, "ret": 49.6},
      {"series": "Danh mục 50% cổ phiếu", "day": 599, "ret": 49.6},
      {"series": "Danh mục 50% cổ phiếu", "day": 603, "ret": 50.4},
      {"series": "Danh mục 50% cổ phiếu", "day": 606, "ret": 47.6},
      {"series": "Danh mục 50% cổ phiếu", "day": 610, "ret": 46},
      {"series": "Danh mục 50% cổ phiếu", "day": 612, "ret": 46.68}
    ]
  },
  "columns": 1,
  "spacing": 24,
  "concat": [
    {
      "width": 746,
      "height": 68,
      "layer": [
        {
          "data": {"name": "banner"},
          "mark": {"type": "area", "color": "#C00000", "opacity": 1, "clip": false},
          "encoding": {
            "x": {"field": "bx", "type": "quantitative", "scale": {"domain": [0.088, 1], "nice": false, "zero": false}, "axis": null},
            "y": {"field": "top", "type": "quantitative", "scale": {"domain": [0, 1], "reverse": true, "nice": false}, "axis": null},
            "y2": {"field": "bot"}
          }
        },
        {
          "data": {"values": [{"heading": "HIỆU SUẤT DANH MỤC TỪ THỜI ĐIỂM CÔNG BỐ"}]},
          "mark": {"type": "text", "color": "white", "font": "Open Sans", "fontWeight": "bold", "fontSize": 31, "align": "center", "baseline": "alphabetic"},
          "encoding": {
            "text": {"field": "heading"},
            "x": {"datum": 0.485, "type": "quantitative"},
            "y": {"datum": 0.7, "type": "quantitative"}
          }
        }
      ]
    },
    {
      "width": 893,
      "height": 344,
      "title": {
        "text": [
          "Dữ liệu trên là kết quả đầu tư trong quá khứ và không phản ánh hiệu quả đầu tư trong tương lai. Lợi nhuận đầu tư và vốn đầu tư sẽ thay đổi do đó Quý nhà đầu tư có thể lời hoặc lỗ khi bán cổ phiếu.",
          "Kết quả đầu tư hiện tại có thể cao hơn hoặc thấp hơn giá trị thể hiện ở trên."
        ],
        "orient": "bottom",
        "anchor": "start",
        "frame": "group",
        "dx": -54,
        "offset": 49,
        "font": "Open Sans",
        "fontSize": 11.25,
        "fontStyle": "italic",
        "fontWeight": "normal",
        "lineHeight": 13,
        "color": "#262626"
      },
      "layer": [
        {
          "data": {"name": "perf"},
          "mark": {"type": "line", "strokeWidth": 2.6, "interpolate": "linear"},
          "encoding": {
            "x": {
              "field": "day",
              "type": "quantitative",
              "scale": {"domain": [-4, 619], "nice": false, "zero": false},
              "axis": {
                "title": null,
                "values": [0, 36, 72, 108, 144, 180, 216, 252, 288, 324, 360, 396, 432, 468, 504, 540, 576],
                "labelExpr": "['10/10/22','29/11/2022','19/01/2023','17/3/23','11/5/23','30/6/23','21/8/23','12/10/23','1/12/23','23/1/24','20/3/24','15/5/24','4/7/24','23/8/24','16/10/24','5/12/24','3/2/25'][round(datum.value / 36)]",
                "labelOverlap": false,
                "labelFlush": false,
                "labelBound": false,
                "ticks": false,
                "domain": false,
                "grid": false,
                "labelPadding": 41,
                "labelFont": "Open Sans",
                "labelFontSize": 9,
                "labelColor": "#595959"
              }
            },
            "y": {
              "field": "ret",
              "type": "quantitative",
              "scale": {"domain": [-20, 120], "nice": false},
              "axis": {
                "title": null,
                "values": [-20, 0, 20, 40, 60, 80, 100, 120],
                "labelExpr": "datum.value + '%'",
                "ticks": false,
                "domain": false,
                "grid": false,
                "labelPadding": 6,
                "minExtent": 72,
                "labelFont": "Open Sans",
                "labelFontSize": 11,
                "labelColor": "#595959"
              }
            },
            "color": {
              "field": "series",
              "type": "nominal",
              "scale": {
                "domain": ["VN-Index", "Danh mục 100% cổ phiếu", "Danh mục 50% cổ phiếu"],
                "range": ["#A6A6A6", "#C00000", "#1F2C6B"]
              },
              "legend": {
                "title": null,
                "orient": "none",
                "direction": "horizontal",
                "legendX": 251,
                "legendY": 503,
                "symbolType": "stroke",
                "symbolSize": 600,
                "symbolStrokeWidth": 3,
                "labelOffset": 1,
                "columnPadding": 11,
                "labelFont": "Open Sans",
                "labelFontSize": 10.75,
                "labelColor": "#595959"
              }
            },
            "order": {"field": "day", "type": "quantitative"}
          }
        },
        {
          "data": {"name": "ends"},
          "mark": {"type": "text", "align": "left", "baseline": "middle", "dx": 8, "font": "Open Sans", "fontWeight": "bold", "fontSize": 14.5},
          "encoding": {
            "x": {"field": "day", "type": "quantitative"},
            "y": {"field": "ret", "type": "quantitative"},
            "text": {"field": "label"},
            "color": {
              "condition": {"test": "datum.series === 'Danh mục 100% cổ phiếu'", "value": "#C00000"},
              "value": "#404040"
            }
          }
        }
      ]
    }
  ]
}
